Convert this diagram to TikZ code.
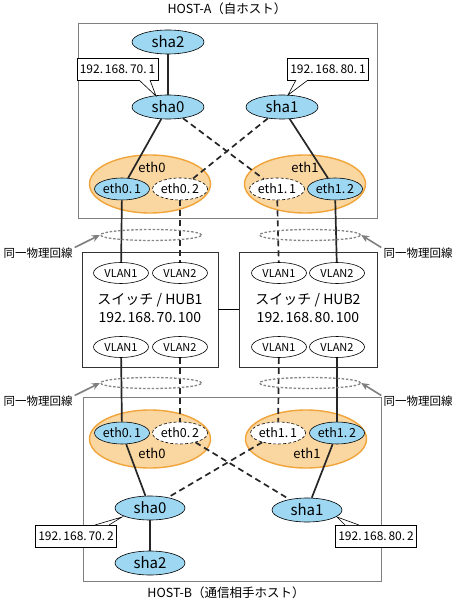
\documentclass[tikz,border=0pt]{standalone}
\usepackage{fontspec}
\setmainfont{Noto Sans CJK JP}
\usetikzlibrary{shapes.geometric,arrows.meta}
\definecolor{skyb}{HTML}{9DD7F2}
\definecolor{orbd}{HTML}{F0A43A}
\definecolor{orfl}{HTML}{FAD6A0}
\definecolor{grayln}{HTML}{7F7F7F}
\definecolor{grayel}{HTML}{858585}
\newcommand{\dt}{.\kern1.8pt}
\tikzset{
  shanode/.style={ellipse,draw=black,line width=0.6pt,fill=skyb,minimum width=72pt,minimum height=24pt,inner sep=0pt,font=\fontsize{15}{15}\selectfont},
  vifblue/.style={ellipse,draw=black,line width=0.6pt,fill=skyb,minimum width=55pt,minimum height=22pt,inner sep=0pt,font=\fontsize{12.5}{12}\selectfont},
  vifwhite/.style={ellipse,draw=black,line width=0.6pt,dashed,dash pattern=on 3pt off 2pt,fill=white,minimum width=55pt,minimum height=22pt,inner sep=0pt,font=\fontsize{12.5}{12}\selectfont},
  ethbig/.style={ellipse,draw=orbd,line width=1.4pt,fill=orfl,minimum width=121pt,minimum height=58pt,inner sep=0pt},
  vlan/.style={ellipse,draw=black,line width=0.6pt,fill=white,minimum width=55pt,minimum height=21pt,inner sep=0pt,font=\fontsize{11}{11}\selectfont},
  hostbox/.style={draw=grayln,line width=0.8pt},
  hubbox/.style={draw=black!80,line width=0.6pt,fill=white},
  callout/.style={draw=black,line width=0.6pt,fill=white,minimum width=81pt,minimum height=22pt,inner sep=0pt,font=\fontsize{12}{12}\selectfont},
  phys/.style={ellipse,draw=grayel,line width=1.3pt,dash pattern=on 2.5pt off 1.8pt,minimum width=101pt,minimum height=11pt,inner sep=0pt},
  solidln/.style={line width=1.7pt,draw=black!85},
  dashln/.style={line width=1.7pt,draw=black!85,dash pattern=on 6pt off 4pt},
  plain/.style={inner sep=0pt,font=\fontsize{11.5}{12}\selectfont},
  hubtxt/.style={inner sep=0pt,font=\fontsize{14}{14}\selectfont},
  ethlbl/.style={inner sep=0pt,font=\fontsize{13}{13}\selectfont},
  grayarr/.style={draw=grayln,line width=1.6pt,-{Stealth[length=8pt,width=7pt]}}
}
\begin{document}
\begin{tikzpicture}[x=1pt,y=-1pt]
\useasboundingbox (0,0) rectangle (456,601);
% host boxes
\node[plain,font=\fontsize{12.5}{12}\selectfont] (tA) at (227,9) {HOST-A（自ホスト）};
\draw[hostbox] (78,23) rectangle (377,218);
\node[plain,font=\fontsize{12.5}{12}\selectfont] (tB) at (226,593) {HOST-B（通信相手ホスト）};
\draw[hostbox] (83,397) rectangle (381,581);

% hub boxes
\node[hubbox,minimum width=136pt,minimum height=115pt,inner sep=0pt] (hub1) at (150,309.5) {};
\node[hubbox,minimum width=138pt,minimum height=115pt,inner sep=0pt] (hub2) at (308,309.5) {};
\draw[line width=0.7pt] (hub1.east) -- (hub2.west);
\node[hubtxt] (h1t) at (150,300) {スイッチ / HUB1};
\node[hubtxt] (h1i) at (150,318) {192\dt 168\dt 70\dt 100};
\node[hubtxt] (h2t) at (308,300) {スイッチ / HUB2};
\node[hubtxt] (h2i) at (308,318) {192\dt 168\dt 80\dt 100};
\node[vlan] (v11) at (121,273) {VLAN1};
\node[vlan] (v12) at (180,273) {VLAN2};
\node[vlan] (v21) at (279,273) {VLAN1};
\node[vlan] (v22) at (337,273) {VLAN2};
\node[vlan] (w11) at (121,347) {VLAN1};
\node[vlan] (w12) at (180,347) {VLAN2};
\node[vlan] (w21) at (279,347) {VLAN1};
\node[vlan] (w22) at (337,347) {VLAN2};

% host A
\node[ethbig] (aeth0) at (150,184) {};
\node[ethbig] (aeth1) at (305,184) {};
\node[ethlbl] (aeth0l) at (152,167) {eth0};
\node[ethlbl] (aeth1l) at (305,167) {eth1};
\node[vifblue] (a01) at (122,189) {eth0\dt 1};
\node[vifwhite] (a02) at (180,189) {eth0\dt 2};
\node[vifwhite] (a11) at (277,189) {eth1\dt 1};
\node[vifblue] (a12) at (335,189) {eth1\dt 2};
\node[shanode] (asha2) at (168,42) {sha2};
\node[shanode] (asha0) at (168,107) {sha0};
\node[shanode] (asha1) at (282,107) {sha1};
\draw[solidln] (asha2.south) -- (asha0.north);
\draw[solidln] (asha0) -- (a01);
\draw[solidln] (asha1) -- (a12);
\draw[dashln] (asha0) -- (a11);
\draw[dashln] (asha1) -- (a02);
% callouts A
\node[callout] (ca0) at (117.5,69) {192\dt 168\dt 70\dt 1};
\node[callout] (ca1) at (328,69) {192\dt 168\dt 80\dt 1};
\coordinate (ca0tip) at (156,96);
\coordinate (ca1tip) at (288,95);
\draw[line width=0.6pt,fill=white] (139,80) -- (ca0tip) -- (150,80);
\draw[line width=0.6pt,fill=white] (296,80) -- (ca1tip) -- (308,80);

% host B
\node[ethbig] (beth0) at (150,439) {};
\node[ethbig] (beth1) at (306,439) {};
\node[ethlbl] (beth0l) at (152,453) {eth0};
\node[ethlbl] (beth1l) at (307,453) {eth1};
\node[vifblue] (b01) at (122,433) {eth0\dt 1};
\node[vifwhite] (b02) at (180,433) {eth0\dt 2};
\node[vifwhite] (b11) at (278,433) {eth1\dt 1};
\node[vifblue] (b12) at (337,433) {eth1\dt 2};
\node[shanode,minimum width=70pt] (bsha0) at (150,508) {sha0};
\node[shanode,minimum width=70pt] (bsha1) at (307,510) {sha1};
\node[shanode,minimum width=70pt] (bsha2) at (150,563) {sha2};
\draw[solidln] (bsha0) -- (bsha2);
\draw[solidln] (b01) -- (bsha0);
\draw[solidln] (b12) -- (bsha1);
\draw[dashln] (b02) -- (bsha1);
\draw[dashln] (b11) -- (bsha0);
\node[callout] (cb0) at (76,536) {192\dt 168\dt 70\dt 2};
\node[callout] (cb1) at (376,536) {192\dt 168\dt 80\dt 2};
\coordinate (cb0tip) at (122,517);
\coordinate (cb1tip) at (337,517);
\draw[line width=0.6pt,fill=white] (95,525) -- (cb0tip) -- (109,525);
\draw[line width=0.6pt,fill=white] (345,525) -- (cb1tip) -- (359,525);

% physical links
\draw[solidln] (a01) -- (v11);
\draw[dashln] (a02) -- (v12);
\draw[dashln] (a11) -- (v21);
\draw[solidln] (a12) -- (v22);
\draw[solidln] (w11) -- (b01);
\draw[dashln] (w12) -- (b02);
\draw[dashln] (w21) -- (b11);
\draw[solidln] (w22) -- (b12);

% same physical line markers
\node[phys] (p1) at (151,235) {};
\node[phys] (p2) at (310,235) {};
\node[phys] (p3) at (151,383) {};
\node[phys] (p4) at (310,383) {};
\node[plain] (l1) at (38,253) {同一物理回線};
\node[plain] (l2) at (418,253) {同一物理回線};
\node[plain] (l3) at (38,401) {同一物理回線};
\node[plain] (l4) at (418,401) {同一物理回線};
\draw[grayarr] (l1.north east) ++(2,0) -- (p1.west);
\draw[grayarr] (l2.north west) ++(-2,0) -- (p2.east);
\draw[grayarr] (l3.north east) ++(2,0) -- (p3.west);
\draw[grayarr] (l4.north west) ++(-2,0) -- (p4.east);
\end{tikzpicture}
\end{document}
